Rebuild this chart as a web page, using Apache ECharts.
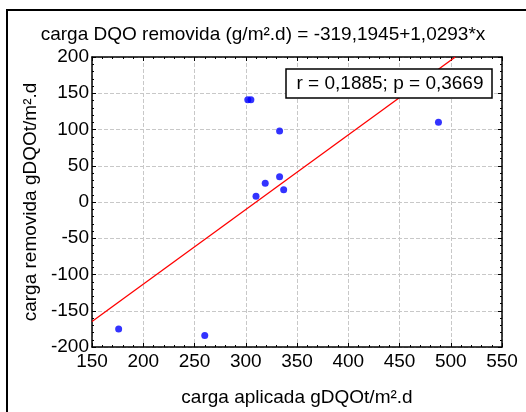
<!DOCTYPE html>
<html><head><meta charset="utf-8">
<script src="https://cdn.jsdelivr.net/npm/echarts@6/dist/echarts.min.js"></script>
<style>html,body{margin:0;padding:0;background:#fff}#c{width:526px;height:412px}</style>
</head><body><div id="c"></div>
<script>
const titleText = 'carga DQO removida (g/m².d) = -319,1945+1,0293*x';
const xLabel = 'carga aplicada gDQOt/m².d';
const yLabel = 'carga removida gDQOt/m².d';
const statsText = 'r = 0,1885; p = 0,3669';
const xLoad = [302, 305, 333, 333, 319, 337, 310, 488, 176, 260];
const yRemoved = [141, 141, 98, 35, 26, 17, 8, 110, -175, -184];
const intercept = -319.1945;
const slope = 1.0293;
const xTicks = [150, 200, 250, 300, 350, 400, 450, 500, 550];
const yTicks = [-200, -150, -100, -50, 0, 50, 100, 150, 200];

const pts = xLoad.map((x, i) => [x, yRemoved[i]]);
const xStart = xTicks[0];
const xEnd = (yTicks[yTicks.length - 1] - intercept) / slope;
const fitLine = [[xStart, intercept + slope * xStart], [xEnd, intercept + slope * xEnd]];

const font = 'Liberation Sans, Arial, sans-serif';
const fs = 19;
const chart = echarts.init(document.getElementById('c'), null, {renderer: 'canvas'});
const baseX = {
  type: 'value', min: xTicks[0], max: xTicks[xTicks.length - 1], interval: 50,
  axisLine: {show: true, onZero: false, lineStyle: {color: '#000', width: 1.5}},
  axisTick: {show: true, inside: true, length: 4, lineStyle: {color: '#000'}},
  minorTick: {show: true, splitNumber: 5, length: 2, lineStyle: {color: '#000'}}
};
const baseY = {
  type: 'value', min: yTicks[0], max: yTicks[yTicks.length - 1], interval: 50,
  axisLine: {show: true, onZero: false, lineStyle: {color: '#000', width: 1.5}},
  axisTick: {show: true, inside: true, length: 4, lineStyle: {color: '#000'}},
  minorTick: {show: true, splitNumber: 5, length: 2, lineStyle: {color: '#000'}}
};
chart.setOption({
  animation: false,
  backgroundColor: '#fff',
  title: {text: titleText, left: 'center', top: 20, textStyle: {fontFamily: font, fontSize: fs, fontWeight: 'normal', color: '#000'}},
  grid: {left: 92, right: 24, top: 57, bottom: 65},
  xAxis: [
    Object.assign({}, baseX, {
      position: 'bottom',
      name: xLabel, nameLocation: 'middle', nameGap: 41,
      nameTextStyle: {fontFamily: font, fontSize: fs, color: '#000'},
      axisLabel: {fontFamily: font, fontSize: fs, color: '#000', margin: 5},
      splitLine: {show: true, lineStyle: {color: '#c8c8c8', type: [4, 2], width: 1}}
    }),
    Object.assign({}, baseX, {position: 'top', axisLabel: {show: false}, splitLine: {show: false}})
  ],
  yAxis: [
    Object.assign({}, baseY, {
      position: 'left',
      name: yLabel, nameLocation: 'middle', nameGap: 43, nameRotate: 90,
      nameTextStyle: {fontFamily: font, fontSize: fs, color: '#000'},
      axisLabel: {fontFamily: font, fontSize: fs, color: '#000', margin: 3},
      splitLine: {show: true, lineStyle: {color: '#c8c8c8', type: [4, 2], width: 1}}
    }),
    Object.assign({}, baseY, {position: 'right', axisLabel: {show: false}, splitLine: {show: false}})
  ],
  series: [
    {type: 'line', data: fitLine, symbol: 'none', lineStyle: {color: '#ff0000', width: 1.3}, clip: true, z: 3},
    {type: 'scatter', data: pts, symbol: 'circle', symbolSize: 7, itemStyle: {color: '#0000ff'}, z: 4}
  ],
  graphic: [
    {type: 'rect', shape: {x: 7, y: 10, width: 540, height: 420}, style: {fill: 'none', stroke: '#000', lineWidth: 2}, z: 100},
    {type: 'rect', shape: {x: 286, y: 69, width: 206, height: 29}, style: {fill: '#fff', stroke: '#000', lineWidth: 1.5}, z: 100},
    {type: 'text', x: 390, y: 84, style: {text: statsText, fontFamily: font, fontSize: fs, fill: '#000', align: 'center', verticalAlign: 'middle'}, z: 101}
  ]
});
</script></body></html>
